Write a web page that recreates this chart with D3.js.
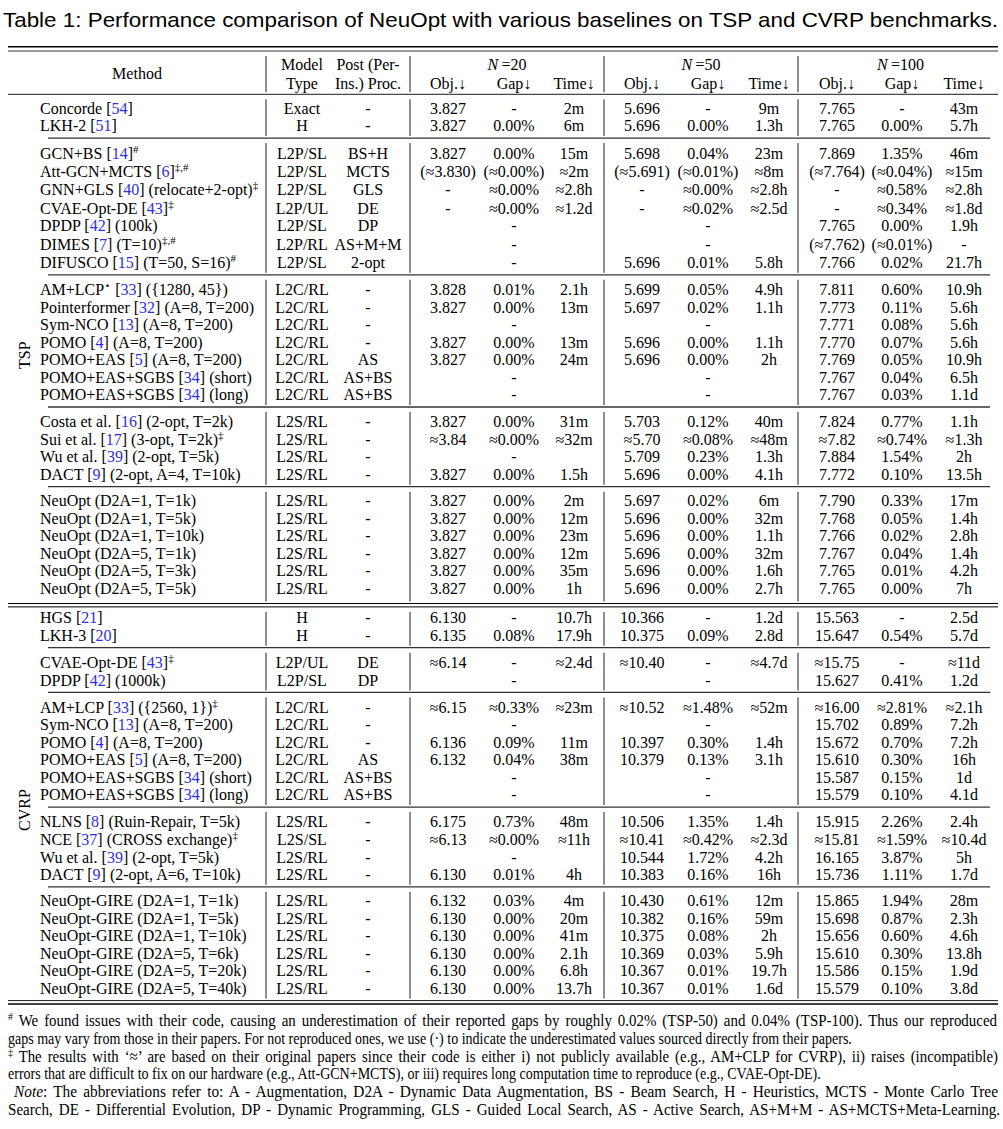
<!DOCTYPE html>
<html>
<head>
<meta charset="utf-8">
<script src="https://cdn.jsdelivr.net/npm/d3@7"></script>
<style>
  body { margin: 0; background: #fff; }
  svg text { font-family: "Liberation Serif", "Times New Roman", serif; fill: #000; }
</style>
</head>
<body>
<svg id="tbl" width="1003" height="1129"></svg>
<script>
const title = 'Table 1: Performance comparison of NeuOpt with various baselines on TSP and CVRP benchmarks.'
const sizes = ['20', '50', '100']
const metrics = ['Obj.↓', 'Gap↓', 'Time↓']
const problemNames = ['TSP', 'CVRP']

// ---- TSP ----
const tspGroups = [2, 7, 7, 4, 6]
const tspMethods = [
  'Concorde [54]', 'LKH-2 [51]',
  'GCN+BS [14]^{#}', 'Att-GCN+MCTS [6]^{‡,#}', 'GNN+GLS [40] (relocate+2-opt)^{‡}', 'CVAE-Opt-DE [43]^{‡}',
  'DPDP [42] (100k)', 'DIMES [7] (T=10)^{‡,#}', 'DIFUSCO [15] (T=50, S=16)^{#}',
  'AM+LCP^{⋆} [33] ({1280, 45})', 'Pointerformer [32] (A=8, T=200)', 'Sym-NCO [13] (A=8, T=200)',
  'POMO [4] (A=8, T=200)', 'POMO+EAS [5] (A=8, T=200)', 'POMO+EAS+SGBS [34] (short)', 'POMO+EAS+SGBS [34] (long)',
  'Costa et al. [16] (2-opt, T=2k)', 'Sui et al. [17] (3-opt, T=2k)^{‡}', 'Wu et al. [39] (2-opt, T=5k)', 'DACT [9] (2-opt, A=4, T=10k)',
  'NeuOpt (D2A=1, T=1k)', 'NeuOpt (D2A=1, T=5k)', 'NeuOpt (D2A=1, T=10k)',
  'NeuOpt (D2A=5, T=1k)', 'NeuOpt (D2A=5, T=3k)', 'NeuOpt (D2A=5, T=5k)'
]
const tspModel = [
  'Exact', 'H',
  'L2P/SL', 'L2P/SL', 'L2P/SL', 'L2P/UL', 'L2P/SL', 'L2P/RL', 'L2P/SL',
  'L2C/RL', 'L2C/RL', 'L2C/RL', 'L2C/RL', 'L2C/RL', 'L2C/RL', 'L2C/RL',
  'L2S/RL', 'L2S/RL', 'L2S/RL', 'L2S/RL',
  'L2S/RL', 'L2S/RL', 'L2S/RL', 'L2S/RL', 'L2S/RL', 'L2S/RL'
]
const tspPost = [
  '-', '-',
  'BS+H', 'MCTS', 'GLS', 'DE', 'DP', 'AS+M+M', '2-opt',
  '-', '-', '-', '-', 'AS', 'AS+BS', 'AS+BS',
  '-', '-', '-', '-',
  '-', '-', '-', '-', '-', '-'
]
const tsp20 = [
  ['3.827', '-', '2m'], ['3.827', '0.00%', '6m'],
  ['3.827', '0.00%', '15m'], ['(≈3.830)', '(≈0.00%)', '≈2m'], ['-', '≈0.00%', '≈2.8h'], ['-', '≈0.00%', '≈1.2d'],
  ['', '-', ''], ['', '-', ''], ['', '-', ''],
  ['3.828', '0.01%', '2.1h'], ['3.827', '0.00%', '13m'], ['', '-', ''], ['3.827', '0.00%', '13m'],
  ['3.827', '0.00%', '24m'], ['', '-', ''], ['', '-', ''],
  ['3.827', '0.00%', '31m'], ['≈3.84', '≈0.00%', '≈32m'], ['', '-', ''], ['3.827', '0.00%', '1.5h'],
  ['3.827', '0.00%', '2m'], ['3.827', '0.00%', '12m'], ['3.827', '0.00%', '23m'],
  ['3.827', '0.00%', '12m'], ['3.827', '0.00%', '35m'], ['3.827', '0.00%', '1h']
]
const tsp50 = [
  ['5.696', '-', '9m'], ['5.696', '0.00%', '1.3h'],
  ['5.698', '0.04%', '23m'], ['(≈5.691)', '(≈0.01%)', '≈8m'], ['-', '≈0.00%', '≈2.8h'], ['-', '≈0.02%', '≈2.5d'],
  ['', '-', ''], ['', '-', ''], ['5.696', '0.01%', '5.8h'],
  ['5.699', '0.05%', '4.9h'], ['5.697', '0.02%', '1.1h'], ['', '-', ''], ['5.696', '0.00%', '1.1h'],
  ['5.696', '0.00%', '2h'], ['', '-', ''], ['', '-', ''],
  ['5.703', '0.12%', '40m'], ['≈5.70', '≈0.08%', '≈48m'], ['5.709', '0.23%', '1.3h'], ['5.696', '0.00%', '4.1h'],
  ['5.697', '0.02%', '6m'], ['5.696', '0.00%', '32m'], ['5.696', '0.00%', '1.1h'],
  ['5.696', '0.00%', '32m'], ['5.696', '0.00%', '1.6h'], ['5.696', '0.00%', '2.7h']
]
const tsp100 = [
  ['7.765', '-', '43m'], ['7.765', '0.00%', '5.7h'],
  ['7.869', '1.35%', '46m'], ['(≈7.764)', '(≈0.04%)', '≈15m'], ['-', '≈0.58%', '≈2.8h'], ['-', '≈0.34%', '≈1.8d'],
  ['7.765', '0.00%', '1.9h'], ['(≈7.762)', '(≈0.01%)', '-'], ['7.766', '0.02%', '21.7h'],
  ['7.811', '0.60%', '10.9h'], ['7.773', '0.11%', '5.6h'], ['7.771', '0.08%', '5.6h'], ['7.770', '0.07%', '5.6h'],
  ['7.769', '0.05%', '10.9h'], ['7.767', '0.04%', '6.5h'], ['7.767', '0.03%', '1.1d'],
  ['7.824', '0.77%', '1.1h'], ['≈7.82', '≈0.74%', '≈1.3h'], ['7.884', '1.54%', '2h'], ['7.772', '0.10%', '13.5h'],
  ['7.790', '0.33%', '17m'], ['7.768', '0.05%', '1.4h'], ['7.766', '0.02%', '2.8h'],
  ['7.767', '0.04%', '1.4h'], ['7.765', '0.01%', '4.2h'], ['7.765', '0.00%', '7h']
]

// ---- CVRP ----
const cvrpGroups = [2, 2, 6, 4, 6]
const cvrpMethods = [
  'HGS [21]', 'LKH-3 [20]',
  'CVAE-Opt-DE [43]^{‡}', 'DPDP [42] (1000k)',
  'AM+LCP [33] ({2560, 1})^{‡}', 'Sym-NCO [13] (A=8, T=200)', 'POMO [4] (A=8, T=200)',
  'POMO+EAS [5] (A=8, T=200)', 'POMO+EAS+SGBS [34] (short)', 'POMO+EAS+SGBS [34] (long)',
  'NLNS [8] (Ruin-Repair, T=5k)', 'NCE [37] (CROSS exchange)^{‡}', 'Wu et al. [39] (2-opt, T=5k)', 'DACT [9] (2-opt, A=6, T=10k)',
  'NeuOpt-GIRE (D2A=1, T=1k)', 'NeuOpt-GIRE (D2A=1, T=5k)', 'NeuOpt-GIRE (D2A=1, T=10k)',
  'NeuOpt-GIRE (D2A=5, T=6k)', 'NeuOpt-GIRE (D2A=5, T=20k)', 'NeuOpt-GIRE (D2A=5, T=40k)'
]
const cvrpModel = [
  'H', 'H',
  'L2P/UL', 'L2P/SL',
  'L2C/RL', 'L2C/RL', 'L2C/RL', 'L2C/RL', 'L2C/RL', 'L2C/RL',
  'L2S/RL', 'L2S/SL', 'L2S/RL', 'L2S/RL',
  'L2S/RL', 'L2S/RL', 'L2S/RL', 'L2S/RL', 'L2S/RL', 'L2S/RL'
]
const cvrpPost = [
  '-', '-',
  'DE', 'DP',
  '-', '-', '-', 'AS', 'AS+BS', 'AS+BS',
  '-', '-', '-', '-',
  '-', '-', '-', '-', '-', '-'
]
const cvrp20 = [
  ['6.130', '-', '10.7h'], ['6.135', '0.08%', '17.9h'],
  ['≈6.14', '-', '≈2.4d'], ['', '-', ''],
  ['≈6.15', '≈0.33%', '≈23m'], ['', '-', ''], ['6.136', '0.09%', '11m'], ['6.132', '0.04%', '38m'],
  ['', '-', ''], ['', '-', ''],
  ['6.175', '0.73%', '48m'], ['≈6.13', '≈0.00%', '≈11h'], ['', '-', ''], ['6.130', '0.01%', '4h'],
  ['6.132', '0.03%', '4m'], ['6.130', '0.00%', '20m'], ['6.130', '0.00%', '41m'],
  ['6.130', '0.00%', '2.1h'], ['6.130', '0.00%', '6.8h'], ['6.130', '0.00%', '13.7h']
]
const cvrp50 = [
  ['10.366', '-', '1.2d'], ['10.375', '0.09%', '2.8d'],
  ['≈10.40', '-', '≈4.7d'], ['', '-', ''],
  ['≈10.52', '≈1.48%', '≈52m'], ['', '-', ''], ['10.397', '0.30%', '1.4h'], ['10.379', '0.13%', '3.1h'],
  ['', '-', ''], ['', '-', ''],
  ['10.506', '1.35%', '1.4h'], ['≈10.41', '≈0.42%', '≈2.3d'], ['10.544', '1.72%', '4.2h'], ['10.383', '0.16%', '16h'],
  ['10.430', '0.61%', '12m'], ['10.382', '0.16%', '59m'], ['10.375', '0.08%', '2h'],
  ['10.369', '0.03%', '5.9h'], ['10.367', '0.01%', '19.7h'], ['10.367', '0.01%', '1.6d']
]
const cvrp100 = [
  ['15.563', '-', '2.5d'], ['15.647', '0.54%', '5.7d'],
  ['≈15.75', '-', '≈11d'], ['15.627', '0.41%', '1.2d'],
  ['≈16.00', '≈2.81%', '≈2.1h'], ['15.702', '0.89%', '7.2h'], ['15.672', '0.70%', '7.2h'], ['15.610', '0.30%', '16h'],
  ['15.587', '0.15%', '1d'], ['15.579', '0.10%', '4.1d'],
  ['15.915', '2.26%', '2.4h'], ['≈15.81', '≈1.59%', '≈10.4d'], ['16.165', '3.87%', '5h'], ['15.736', '1.11%', '1.7d'],
  ['15.865', '1.94%', '28m'], ['15.698', '0.87%', '2.3h'], ['15.656', '0.60%', '4.6h'],
  ['15.610', '0.30%', '13.8h'], ['15.586', '0.15%', '1.9d'], ['15.579', '0.10%', '3.8d']
]

const footnotes = [
  '^{#} We found issues with their code, causing an underestimation of their reported gaps by roughly 0.02% (TSP-50) and 0.04% (TSP-100). Thus our reproduced',
  'gaps may vary from those in their papers. For not reproduced ones, we use (·) to indicate the underestimated values sourced directly from their papers.',
  '^{‡} The results with ‘≈’ are based on their original papers since their code is either i) not publicly available (e.g., AM+CLP for CVRP), ii) raises (incompatible)',
  'errors that are difficult to fix on our hardware (e.g., Att-GCN+MCTS), or iii) requires long computation time to reproduce (e.g., CVAE-Opt-DE).',
  '*Note*: The abbreviations refer to: A - Augmentation, D2A - Dynamic Data Augmentation, BS - Beam Search, H - Heuristics, MCTS - Monte Carlo Tree',
  'Search, DE - Differential Evolution, DP - Dynamic Programming, GLS - Guided Local Search, AS - Active Search, AS+M+M - AS+MCTS+Meta-Learning.'
]

// ---------- layout ----------
const svg = d3.select('#tbl')
const blue = '#2f2fdc'
const pitch = 17.5, supExtra = 0.9
const ruleToRow = 14, rowToRule = 12.3
const left = 8, right = 998, midLeft = 48, midRight = 990

const cols = ['method', 'model', 'post',
  'obj20', 'gap20', 'time20', 'obj50', 'gap50', 'time50', 'obj100', 'gap100', 'time100']
const colX = d3.scaleOrdinal().domain(cols)
  .range([40, 302, 368, 448, 514, 574, 642, 708, 769, 837, 902, 964])
const sepX = [266, 410, 604, 798]
const metricKeys = ['obj', 'gap', 'time']

// markup: [n] -> blue citation, ^{..} -> superscript, *..* -> italic
function rich(text, str, supSize, supRise) {
  const re = /\[(\d+)\]|\^\{([^}]*)\}|\*([^*]+)\*/g
  let last = 0, m, raised = false
  const add = (s, opt) => {
    opt = opt || {}
    const t = text.append('tspan').text(s)
    if (opt.sup) {
      t.attr('font-size', supSize).attr('dy', raised ? 0 : -supRise)
      raised = true
    } else if (raised) {
      t.attr('dy', supRise)
      raised = false
    }
    if (opt.fill) t.style('fill', opt.fill)
    if (opt.italic) t.attr('font-style', 'italic')
  }
  while ((m = re.exec(str))) {
    if (m.index > last) add(str.slice(last, m.index))
    if (m[1]) { add('['); add(m[1], { fill: blue }); add(']') }
    else if (m[2] !== undefined) add(m[2], { sup: true })
    else add(m[3], { italic: true })
    last = re.lastIndex
  }
  if (last < str.length) add(str.slice(last))
}

const problems = [
  { name: problemNames[0], groups: tspGroups, methods: tspMethods, model: tspModel, post: tspPost, res: [tsp20, tsp50, tsp100] },
  { name: problemNames[1], groups: cvrpGroups, methods: cvrpMethods, model: cvrpModel, post: cvrpPost, res: [cvrp20, cvrp50, cvrp100] }
]

const hrules = [], segs = [], rows = [], labels = []
hrules.push({ y: 46.7, x0: left, x1: right, w: 1.4 })
hrules.push({ y: 51, x0: left, x1: right, w: 0.8 })
hrules.push({ y: 94.3, x0: left, x1: right, w: 0.9 })
segs.push([51, 94.3])
let cur = 94.3, gapBelow = ruleToRow, lastRow = 0

problems.forEach((P, pi) => {
  let k = 0, firstRow = null
  P.groups.forEach((n, gi) => {
    if (gi > 0) {
      const r = lastRow + rowToRule
      hrules.push({ y: r, x0: midLeft, x1: midRight, w: 1.3, c: '#333' })
      segs.push([cur, r]); cur = r; gapBelow = ruleToRow
    }
    for (let j = 0; j < n; j++, k++) {
      const sup = P.methods[k].indexOf('^{') >= 0
      const y = (j === 0 ? cur + gapBelow : lastRow + pitch) + (sup ? supExtra : 0)
      if (firstRow === null) firstRow = y
      rows.push({ P, k, y })
      lastRow = y
    }
  })
  labels.push({ name: P.name, y: (firstRow + lastRow) / 2 + 7 })
  const r1 = lastRow + (pi === 0 ? 15.3 : 12.3)
  const r2 = r1 + 3.4
  hrules.push({ y: r1, x0: left, x1: right, w: pi === 0 ? 1 : 0.9 })
  hrules.push({ y: r2, x0: left, x1: right, w: pi === 0 ? 1 : 1.3 })
  segs.push([cur, r1]); cur = r2; gapBelow = 11
})

// ---------- title ----------
svg.append('text')
  .attr('x', 3).attr('y', 26.5)
  .style('font-family', '"Liberation Sans", Arial, sans-serif')
  .attr('font-size', 21)
  .attr('textLength', 995).attr('lengthAdjust', 'spacingAndGlyphs')
  .text(title)

// ---------- rules ----------
svg.append('g').selectAll('line').data(hrules).join('line')
  .attr('x1', d => d.x0).attr('x2', d => d.x1)
  .attr('y1', d => d.y).attr('y2', d => d.y)
  .attr('stroke', d => d.c || '#000').attr('stroke-width', d => d.w)

const vlines = []
segs.forEach(s => sepX.forEach(x => vlines.push({ x, y0: s[0] + 5, y1: s[1] - 2 })))
svg.append('g').selectAll('line').data(vlines).join('line')
  .attr('x1', d => d.x).attr('x2', d => d.x)
  .attr('y1', d => d.y0).attr('y2', d => d.y1)
  .attr('stroke', '#333').attr('stroke-width', 1.1)

// ---------- header ----------
const head = svg.append('g').attr('font-size', 16).attr('text-anchor', 'middle')
head.append('text').attr('x', (left + sepX[0]) / 2).attr('y', 78.5).text('Method')
head.append('text').attr('x', colX('model')).attr('y', 69.5).text('Model')
head.append('text').attr('x', colX('model')).attr('y', 88.5).text('Type')
head.append('text').attr('x', colX('post')).attr('y', 69.5).text('Post (Per-')
head.append('text').attr('x', colX('post')).attr('y', 88.5).text('Ins.) Proc.')
const groupMid = [(sepX[1] + sepX[2]) / 2, (sepX[2] + sepX[3]) / 2, (sepX[3] + 1003) / 2]
sizes.forEach((s, si) => {
  const t = head.append('text').attr('x', groupMid[si]).attr('y', 69.5)
  t.append('tspan').attr('font-style', 'italic').text('N')
  t.append('tspan').text('\u2009=' + s)
  metrics.forEach((m, mi) => {
    head.append('text').attr('x', colX(metricKeys[mi] + s)).attr('y', 88.5).text(m)
  })
})

// ---------- body ----------
const body = svg.append('g').attr('font-size', 16)
rows.forEach(r => {
  const t = body.append('text').attr('x', colX('method')).attr('y', r.y + 5.5)
  rich(t, r.P.methods[r.k], 11, 6)
})
const cells = []
rows.forEach(r => {
  cells.push({ x: colX('model'), y: r.y, v: r.P.model[r.k] })
  cells.push({ x: colX('post'), y: r.y, v: r.P.post[r.k] })
  r.P.res.forEach((arr, si) => arr[r.k].forEach((v, mi) => {
    if (v) cells.push({ x: colX(metricKeys[mi] + sizes[si]), y: r.y, v })
  }))
})
body.selectAll('text.cell').data(cells).join('text')
  .attr('class', 'cell')
  .attr('text-anchor', 'middle')
  .attr('x', d => d.x).attr('y', d => d.y + 5.5)
  .text(d => d.v)

body.selectAll('text.prob').data(labels).join('text')
  .attr('class', 'prob')
  .attr('text-anchor', 'middle')
  .attr('transform', d => 'translate(29.5,' + d.y + ') rotate(-90)')
  .text(d => d.name)

// ---------- footnotes (condensed face; full lines stretched to the margin) ----------
const fnSx = 0.85, fnSize = 16.5
const fnEnd = [997, null, 998, null, 998, 1000]
const fn = svg.append('g').attr('font-size', fnSize)
footnotes.forEach((f, i) => {
  const x0 = i === 4 ? 14 : 8
  const g = fn.append('g')
    .attr('transform', 'translate(' + x0 + ',' + (1026 + i * 17.8) + ') scale(' + fnSx + ',1)')
  const t = g.append('text').attr('x', 0).attr('y', 0)
  rich(t, f, 11, 6)
  if (fnEnd[i]) {
    t.style('word-spacing', '2.5px')
      .attr('textLength', (fnEnd[i] - x0) / fnSx)
      .attr('lengthAdjust', 'spacingAndGlyphs')
  }
})
</script>
</body>
</html>
